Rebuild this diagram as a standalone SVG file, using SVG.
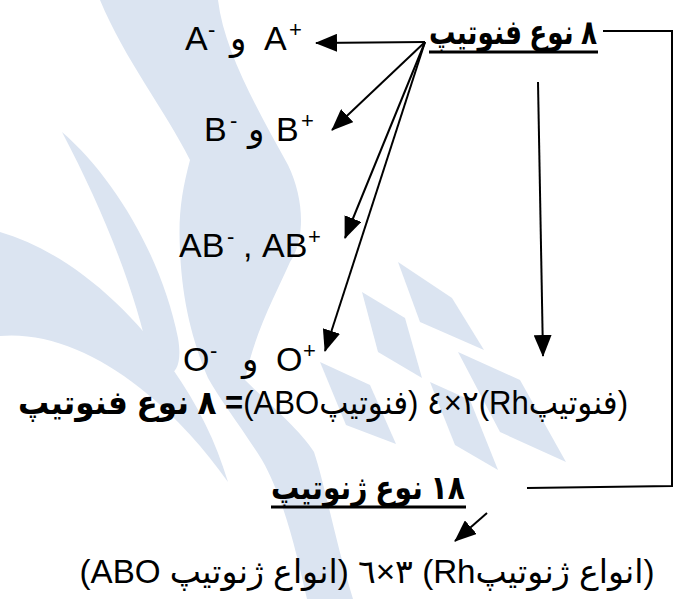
<svg xmlns="http://www.w3.org/2000/svg" width="681" height="599" viewBox="0 0 681 599">
<defs>
<style>
.t{font-family:"Liberation Sans","DejaVu Sans",sans-serif;font-size:34px;fill:#000}
.f{font-family:"Liberation Sans","DejaVu Sans",sans-serif;font-size:33px;fill:#000}
.b{font-weight:bold}
.s{font-size:22px}
.ln{stroke:#000;stroke-width:2;fill:none}
.ul{stroke:#000;stroke-width:3}
.wm{fill:#dbe4f1}
</style>
<marker id="ah" markerUnits="userSpaceOnUse" markerWidth="22" markerHeight="18" refX="21" refY="9" orient="auto">
<path d="M0,0 L22,9 L0,18 Z" fill="#000"/>
</marker>
</defs>
<rect width="681" height="599" fill="#fff"/>
<g id="watermark">
<path class="wm" d="M100,0 L218,0 C224,50 255,105 288,165 C305,200 305,240 290,262 C278,290 255,330 245,380 C270,405 300,430 314,452 C325,485 335,540 353,599 L307,599 C298,560 285,500 262,460 C240,425 220,400 208,378 C192,340 182,300 180,250 C178,215 182,190 190,160 C165,110 125,60 100,0 Z"/>
<path class="wm" d="M62,132 C115,178 162,258 178,338 C184,372 170,386 150,362 C136,292 104,212 62,132 Z"/>
<path class="wm" d="M0,232 C62,250 124,300 172,368 C198,405 216,442 228,482 C205,450 178,418 140,388 C95,352 45,332 0,336 Z"/>
<path class="wm" d="M398,262 L452,298 L484,350 L420,322 Z"/>
<path class="wm" d="M362,292 L405,318 L422,378 L378,352 Z"/>
<path class="wm" d="M320,362 L370,385 L396,444 L346,425 Z"/>
<path class="wm" d="M458,352 L520,380 L566,462 L500,432 Z"/>
<path class="wm" d="M430,382 L470,400 L498,470 L455,445 Z"/>
</g>
<g id="connectors">
<line class="ln" x1="425" y1="42" x2="316" y2="43" marker-end="url(#ah)"/>
<line class="ln" x1="425" y1="42" x2="332" y2="130" marker-end="url(#ah)"/>
<line class="ln" x1="425" y1="42" x2="345" y2="238" marker-end="url(#ah)"/>
<line class="ln" x1="425" y1="42" x2="325" y2="351" marker-end="url(#ah)"/>
<line class="ln" x1="538" y1="82" x2="543" y2="356" marker-end="url(#ah)"/>
<line class="ln" x1="487" y1="513" x2="455" y2="541" marker-end="url(#ah)"/>
<polyline class="ln" points="603,31 672,31 672,486 527,488"/>
</g>
<g id="n-phenotypes">
<text class="t b" x="513" y="44" text-anchor="middle" direction="rtl" textLength="168" lengthAdjust="spacingAndGlyphs">٨ نوع فنوتیپ</text>
<line class="ul" x1="429" y1="52" x2="598" y2="52"/>
</g>
<g id="n-a">
<text class="t" y="50"><tspan x="185">A</tspan><tspan class="s" x="208" dy="-13">-</tspan><tspan x="230" dy="13">و</tspan><tspan x="264">A</tspan><tspan class="s" x="289" dy="-13">+</tspan></text>
</g>
<g id="n-b">
<text class="t" y="141"><tspan x="204">B</tspan><tspan class="s" x="230" dy="-13">-</tspan><tspan x="248" dy="13">و</tspan><tspan x="276">B</tspan><tspan class="s" x="301" dy="-13">+</tspan></text>
</g>
<g id="n-ab">
<text class="t" y="257"><tspan x="179">AB</tspan><tspan class="s" x="227" dy="-13">-</tspan><tspan x="243" dy="13">,</tspan><tspan x="262">AB</tspan><tspan class="s" x="308" dy="-13">+</tspan></text>
</g>
<g id="n-o">
<text class="t" y="371"><tspan x="183">O</tspan><tspan class="s" x="210" dy="-13">-</tspan><tspan x="242" dy="13">و</tspan><tspan x="276">O</tspan><tspan class="s" x="303" dy="-13">+</tspan></text>
</g>
<g id="n-formula1">
<text class="f" x="323" y="414" text-anchor="middle" direction="rtl" textLength="610" lengthAdjust="spacingAndGlyphs">(فنوتیپRh)٢×٤ (فنوتیپABO)<tspan class="b">= ٨ نوع فنوتیپ</tspan></text>
</g>
<g id="n-genotypes">
<text class="f b" x="368" y="499" text-anchor="middle" direction="rtl" textLength="194" lengthAdjust="spacingAndGlyphs">١٨ نوع ژنوتیپ</text>
<line class="ul" x1="271" y1="507" x2="466" y2="507"/>
</g>
<g id="n-formula2">
<text class="f" x="367" y="583" text-anchor="middle" direction="rtl" textLength="575" lengthAdjust="spacingAndGlyphs">(انواع ژنوتیپRh) ٣×٦ (انواع ژنوتیپ ABO)</text>
</g>
</svg>
